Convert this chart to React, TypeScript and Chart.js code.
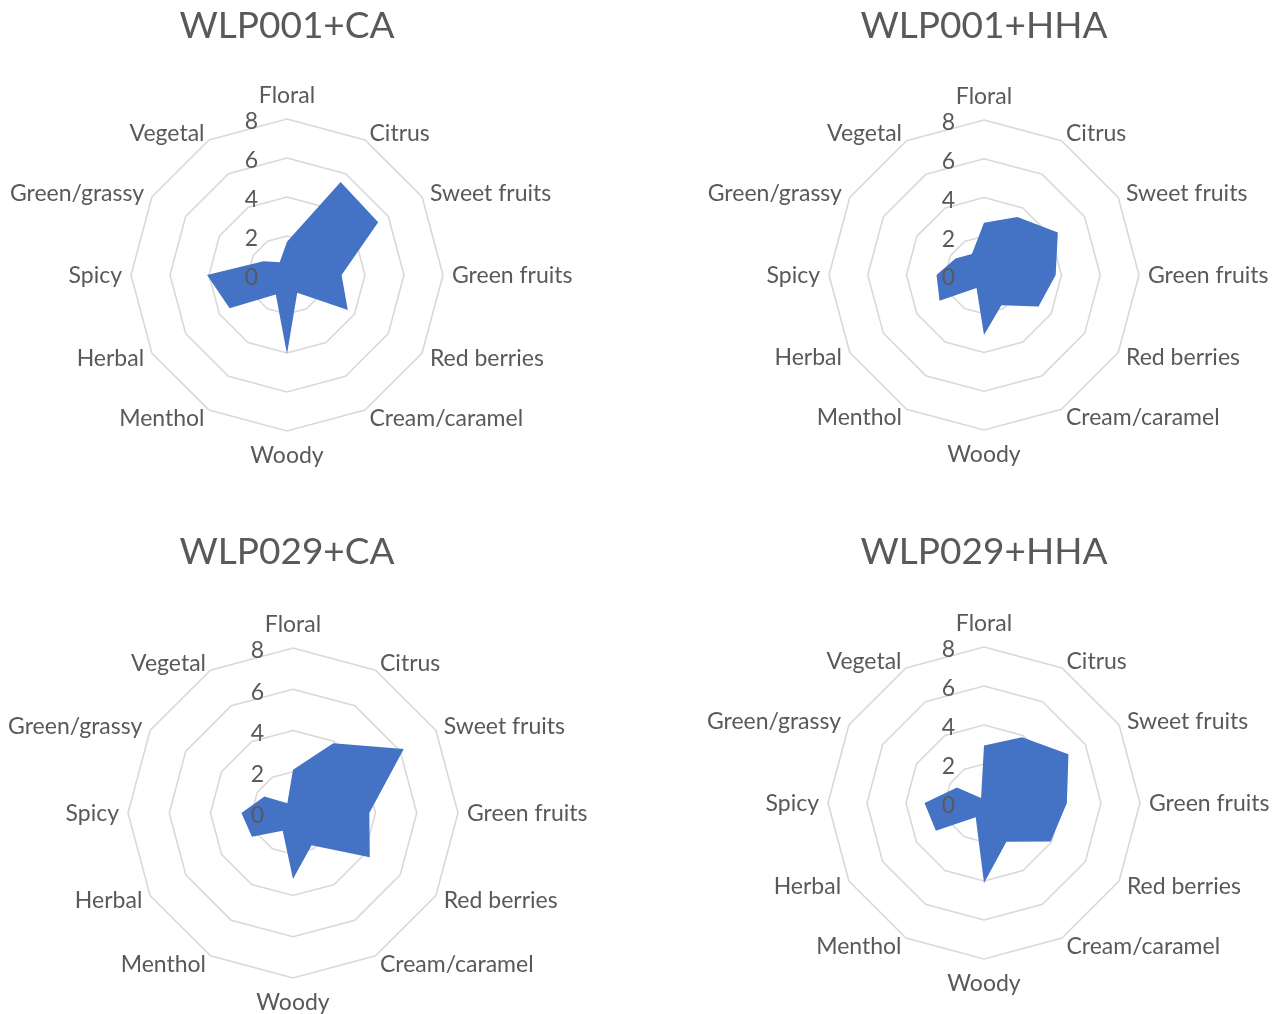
import React, { useEffect, useRef } from 'react';
import { Chart, registerables } from 'chart.js';

Chart.register(...registerables);

// ---- data ----
const categories = [
  'Floral',
  'Citrus',
  'Sweet fruits',
  'Green fruits',
  'Red berries',
  'Cream/caramel',
  'Woody',
  'Menthol',
  'Herbal',
  'Spicy',
  'Green/grassy',
  'Vegetal',
];
const tickValues = [0, 2, 4, 6, 8];
const titles = ['WLP001+CA', 'WLP001+HHA', 'WLP029+CA', 'WLP029+HHA'];
const wlp001CA = [1.7, 5.5, 5.4, 2.8, 3.6, 1.05, 4.05, 1.15, 3.4, 4.1, 1.4, 0.75];
const wlp001HHA = [2.7, 3.45, 4.4, 3.7, 3.25, 1.8, 3.1, 0.77, 2.65, 2.45, 1.7, 1.25];
const wlp029CA = [2.1, 3.9, 6.2, 3.7, 4.3, 1.8, 3.2, 1.0, 2.3, 2.5, 1.6, 0.55];
const wlp029HHA = [2.95, 3.9, 5.0, 4.25, 3.95, 2.3, 4.1, 0.85, 2.85, 3.05, 1.6, 0.3];

// ---- layout / style ----
const TEXT = '#595959';
const GRID = '#D9D9D9';
const FILL = '#4472C4';
const FONT = 'Lato, "Open Sans", sans-serif';
const TITLE_SIZE = 37;
const LABEL_SIZE = 23;
const TICK_SIZE = 23;
const W = 620;

const panels = [
  { title: titles[0], data: wlp001CA, titleX: 287, cx: 287, cy: 275, r: 156, top: 0, height: 507, titleY: 26 },
  { title: titles[1], data: wlp001HHA, titleX: 984, cx: 984, cy: 275, r: 155.5, top: 0, height: 507, titleY: 26 },
  { title: titles[2], data: wlp029CA, titleX: 287, cx: 293, cy: 813, r: 165, top: 510, height: 504, titleY: 552 },
  { title: titles[3], data: wlp029HHA, titleX: 984, cx: 984, cy: 803, r: 156, top: 510, height: 504, titleY: 552 },
];

const textPlugin = {
  id: 'radarText',
  afterDatasetsDraw(chart: any, _args: any, opts: any) {
    const scale = chart.scales.r;
    const ctx = chart.ctx;
    const R = scale.drawingArea;
    const labels: string[] = chart.data.labels;
    ctx.save();
    ctx.fillStyle = TEXT;
    ctx.textBaseline = 'middle';
    // title
    ctx.font = `${TITLE_SIZE}px ${FONT}`;
    ctx.textAlign = 'center';
    ctx.fillText(opts.title, opts.x, opts.y);
    // category labels
    ctx.font = `${LABEL_SIZE}px ${FONT}`;
    labels.forEach((lab, i) => {
      const a = (i * 360) / labels.length;
      if (a === 0 || a === 180) {
        const p = scale.getPointPosition(i, R + 24);
        ctx.textAlign = 'center';
        ctx.fillText(lab, p.x, p.y + 1);
      } else {
        const p = scale.getPointPosition(i, R + 9);
        ctx.textAlign = a < 180 ? 'left' : 'right';
        ctx.fillText(lab, p.x, p.y + 1);
      }
    });
    // value ticks
    ctx.font = `${TICK_SIZE}px ${FONT}`;
    ctx.textAlign = 'right';
    tickValues.forEach((v) => {
      const p = scale.getPointPosition(0, scale.getDistanceFromCenterForValue(v));
      ctx.fillText(String(v), p.x - 29, p.y + 3);
    });
    ctx.restore();
  },
};

function RadarPanel({ p }: { p: (typeof panels)[number] }) {
  const ref = useRef<HTMLCanvasElement | null>(null);
  const left = p.cx - W / 2;
  useEffect(() => {
    if (!ref.current) return;
    const chart = new Chart(ref.current, {
      type: 'radar',
      data: {
        labels: categories,
        datasets: [
          {
            data: p.data,
            backgroundColor: FILL,
            borderWidth: 0,
            pointRadius: 0,
            pointHoverRadius: 0,
            fill: true,
          },
        ],
      },
      options: {
        responsive: false,
        maintainAspectRatio: false,
        animation: false,
        layout: {
          padding: {
            left: W / 2 - p.r,
            right: W / 2 - p.r,
            top: p.cy - p.r - p.top,
            bottom: p.height - (p.cy - p.top + p.r),
          },
        },
        plugins: {
          legend: { display: false },
          tooltip: { enabled: false },
          title: { display: false },
          radarText: { title: p.title, x: p.titleX - left, y: p.titleY - p.top },
        } as any,
        scales: {
          r: {
            min: 0,
            max: 8,
            ticks: { stepSize: 2, display: false },
            grid: { color: GRID, lineWidth: 1.6, circular: false },
            angleLines: { display: false },
            pointLabels: { display: false },
          },
        },
      },
      plugins: [textPlugin],
    });
    return () => chart.destroy();
  }, [p]);
  return (
    <div
      style={{
        position: 'absolute',
        left,
        top: p.top,
        width: W,
        height: p.height,
      }}
    >
      <canvas ref={ref} width={W} height={p.height} style={{ width: W, height: p.height, display: 'block' }} />
    </div>
  );
}

export default function App() {
  return (
    <div
      style={{
        position: 'absolute',
        left: 0,
        top: 0,
        width: 1279,
        height: 1014,
        background: '#ffffff',
        overflow: 'hidden',
      }}
    >
      {panels.map((p) => (
        <RadarPanel key={p.title} p={p} />
      ))}
    </div>
  );
}
